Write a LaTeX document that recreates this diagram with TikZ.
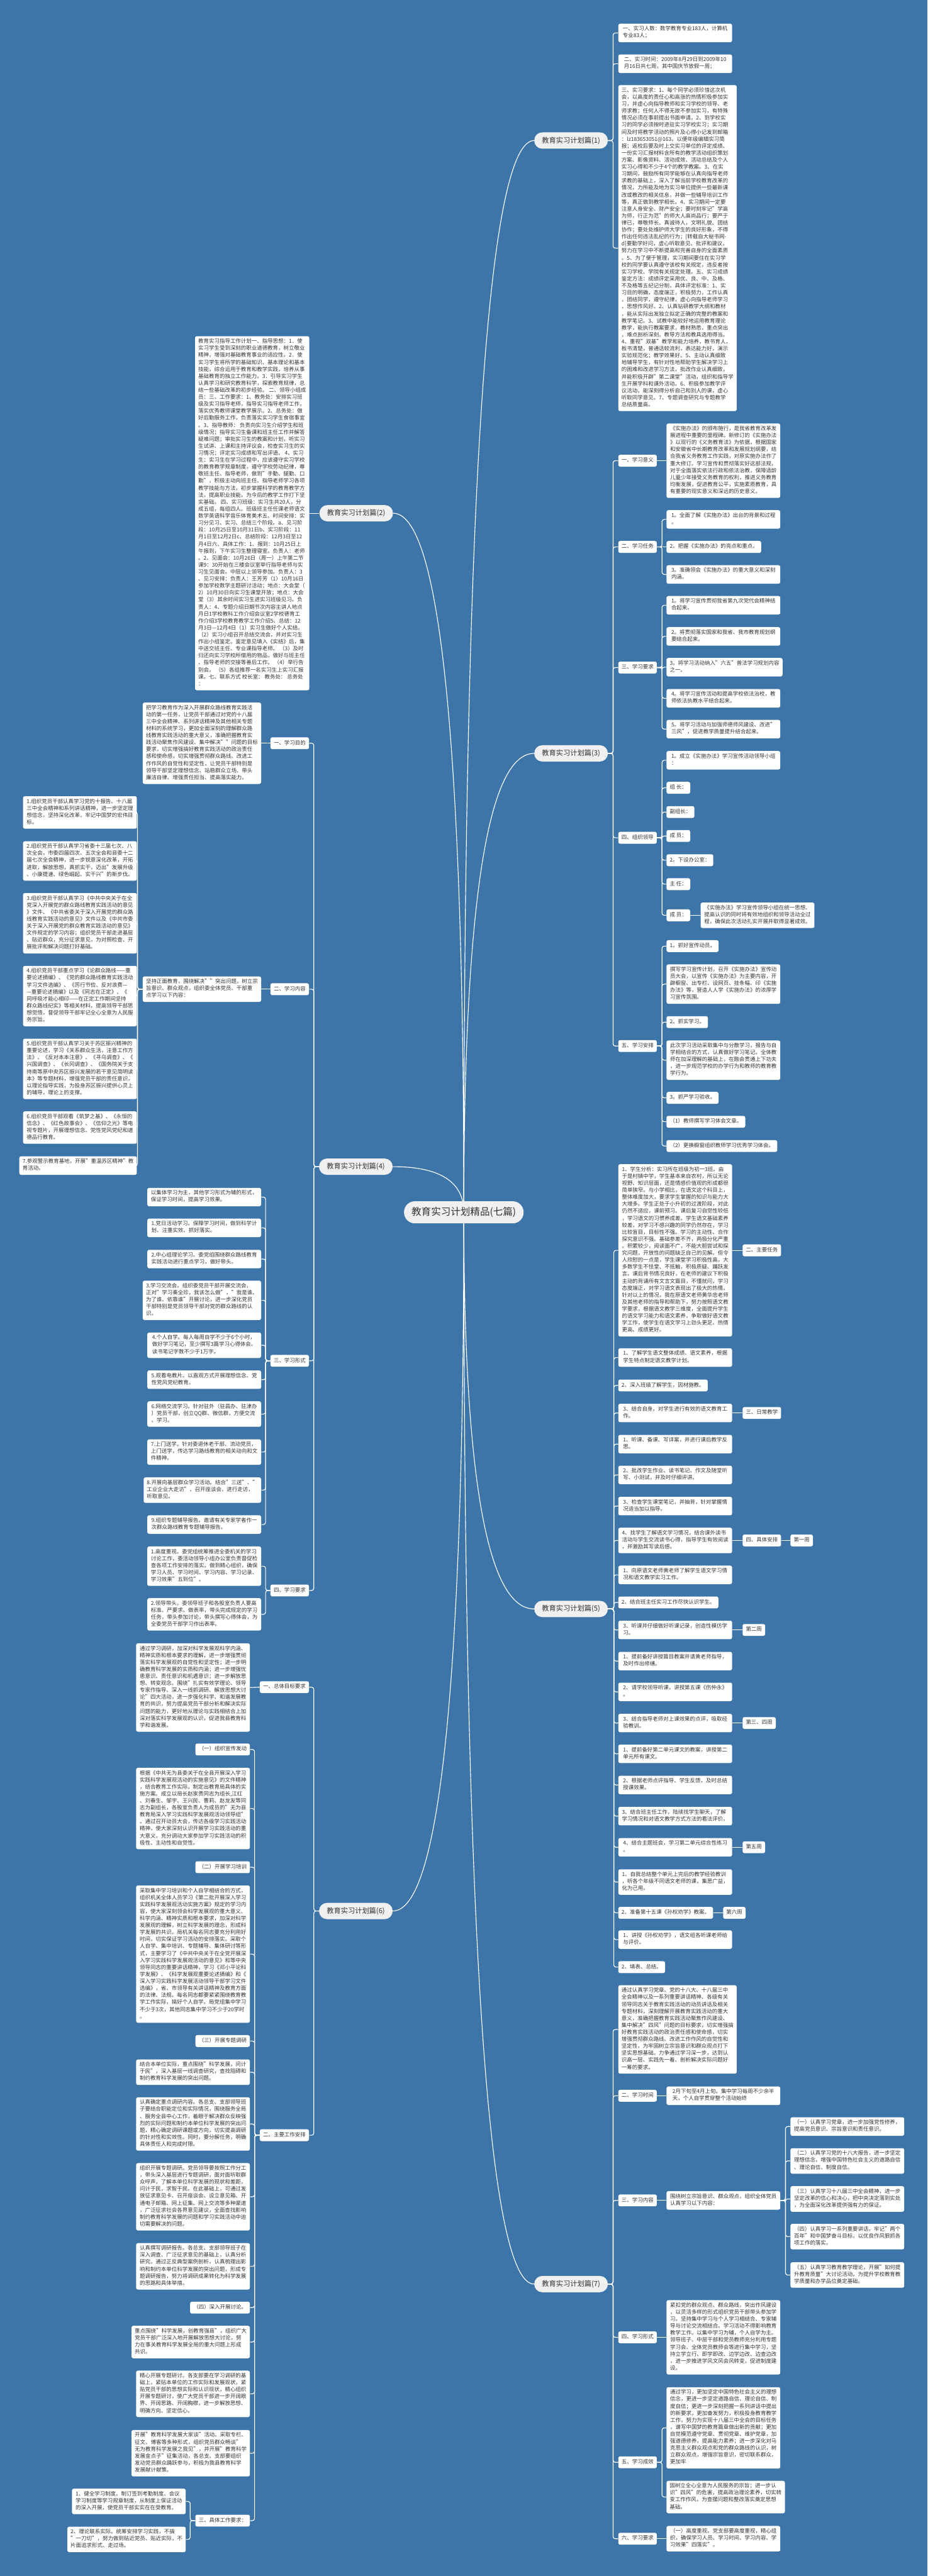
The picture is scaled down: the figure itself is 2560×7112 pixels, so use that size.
\documentclass[tikz,border=0pt]{standalone}
\usepackage{fontspec}
\setmainfont{Noto Sans CJK SC}
\usetikzlibrary{calc}
\definecolor{mmbg}{RGB}{62,117,168}
\definecolor{mmtx}{RGB}{51,51,51}
\definecolor{mmfill}{RGB}{240,240,240}
\newcommand\mystrut{\rule[-2.9pt]{0pt}{9.65pt}}
\tikzset{
 mmbase/.style={fill=white, text=mmtx, rounded corners=2.5pt, inner xsep=4.5pt, inner ysep=3.35pt, align=left,
   font=\fontsize{7.35pt}{9.65pt}\selectfont, execute at begin node=\mystrut, execute at end node=\mystrut},
 mmtb/.style={mmbase, minimum width=157pt},
 mmsb/.style={mmbase},
 mmbranch/.style={fill=mmfill, text=mmtx, rounded corners=11pt, minimum width=101.5pt, minimum height=22.5pt,
   inner sep=0pt, font=\fontsize{9.75pt}{11pt}\selectfont},
 mmroot/.style={fill=mmfill, text=mmtx, rounded corners=15pt, minimum width=165pt, minimum height=30.5pt,
   inner sep=0pt, font=\fontsize{13.5pt}{15pt}\selectfont},
 mmconn/.style={draw=white, line width=1pt, rounded corners=3pt},
 mmcurv/.style={draw=white, line width=1pt},
}
\newcommand\myR[3]{\draw[mmconn] (#1.east) -- ++(#3,0) |- (#2.west);}
\newcommand\myL[3]{\draw[mmconn] (#1.west) -- ++(-#3,0) |- (#2.east);}
\newcommand\myS[2]{\draw[mmconn] (#1.east) -- (#2.west);}
\newcommand\mySL[2]{\draw[mmconn] (#1.west) -- (#2.east);}
\newcommand\myRC[1]{\draw[mmcurv] (rc) .. controls ($(rc)!0.6667!(rc |- #1)$) and ($(#1)!0.6667!(rc |- #1)$) .. (#1);}
\begin{document}
\begin{tikzpicture}[x=0.5pt,y=-0.5pt]
\fill[mmbg] (0,0) rectangle (2560,7112);
\useasboundingbox (0,0) rectangle (2560,7112);
\coordinate (rc) at (1280,3347);

% ================= Branch 1
\node[mmbranch] (b1) at (1576,388) {教育实习计划篇(1)};
\node[mmtb,anchor=west] (b1a) at (1706,91) {一、实习人数：数学教育专业183人，计算机\\专业83人；};
\node[mmtb,anchor=west] (b1b) at (1706,176) {二、实习时间：2009年8月29日到2009年10\\月16日共七周，其中国庆节放假一周；};
\node[mmtb,anchor=west] (b1c) at (1706,685) {三、实习要求：1、每个同学必须珍惜这次机\\
会，以高度的责任心和高涨的热情积极参加实\\
习，并虚心向指导教师和实习学校的领导、老\\
师求教；任何人不得无故不参加实习，有特殊\\
情况必须在事前提出书面申请。2、到学校实\\
习的同学必须按时进驻实习学校实习；实习期\\
间及时将教学活动的照片及心得小记发到邮箱\\
：lz183653051@163，以便年级编辑实习简\\
报；返校后要及时上交实习单位的评定成绩、\\
一份实习汇报材料含所有的教学活动组织策划\\
方案、影像资料、活动成效、活动总结及个人\\
实习心得和不少于4个的教学教案。3、在实\\
习期间，鼓励所有同学能够在认真向指导老师\\
求教的基础上，深入了解当前学校教育改革的\\
情况，力所能及地为实习单位提供一些最新课\\
改或教改的相关信息，并做一些辅导培训工作\\
等，真正做到教学相长。4、实习期间一定要\\
注意人身安全、财产安全；要时刻牢记"学高\\
为师，行正为范"的师大人高尚品行；要严于\\
律已，尊敬师长、真诚待人，文明礼貌、团结\\
协作；要处处维护师大学生的良好形象，不得\\
作出任何违法乱纪的行为；[转载自大秘书网-\\
d]要勤学好问，虚心听取意见、批评和建议，\\
努力在学习中不断提高和完善自身的全面素质\\
。5、为了便于管理，实习期间要住在实习学\\
校的同学要认真遵守该校有关规定，违反者按\\
实习学校、学院有关规定处理。五、实习成绩\\
鉴定方法：成绩评定采用优、良、中、及格、\\
不及格等五纪记分制，具体评定标准：1、实\\
习目的明确，态度端正，积极努力，工作认真\\
，团结同学，遵守纪律，虚心向指导老师学习\\
，思想作风好。2、认真钻研教学大纲和教材\\
，能从实际出发独立拟定正确的完整的教案和\\
教学笔记。3、试教中能较好地运用教育理论\\
教学，能执行教案要求，教材熟悉，重点突出\\
，难点剖析深刻，教导方法和教具选用得当。\\
4、重视"双基"教学和能力培养，教书育人，\\
板书清楚，普通话较流利，表达能力好，演示\\
实验规范化；教学效果好。5、主动认真细致\\
地辅导学生，有针对性地帮助学生解决学习上\\
的困难和改进学习方法，批改作业认真细致，\\
并能积极开辟"第二课堂"活动，组织和指导学\\
生开展学科和课外活动。6、积极参加教学评\\
议活动，能深刻得分析自己和别人的课，虚心\\
听取同学意见。7、专题调查研究与专题教学\\
总结质量高。};

% ================= Branch 3
\node[mmbranch] (b3) at (1576,2080) {教育实习计划篇(3)};
\node[mmsb,anchor=west] (l31) at (1706,1272) {一、学习意义};
\node[mmtb,anchor=west] (t31) at (1839,1272) {《实施办法》的颁布施行，是我省教育改革发\\
展进程中重要的里程碑。新修订的《实施办法\\
》以现行的《义务教育法》为依据，根据国家\\
和安徽省中长期教育改革和发展规划纲要，结\\
合我省义务教育工作实践，对原实施办法作了\\
重大修订。学习宣传和贯彻落实好这部法规，\\
对于全面落实依法行政和依法治教，保障适龄\\
儿童少年接受义务教育的权利，推进义务教育\\
均衡发展，促进教育公平，实施素质教育，具\\
有重要的现实意义和深远的历史意义。};
\node[mmsb,anchor=west] (l32) at (1706,1510) {二、学习任务};
\node[mmtb,anchor=west] (t32a) at (1839,1434) {1。全面了解《实施办法》出台的背景和过程\\。};
\node[mmsb,anchor=west] (t32b) at (1839,1510) {2。把握《实施办法》的亮点和重点。};
\node[mmtb,anchor=west] (t32c) at (1839,1586) {3。准确领会《实施办法》的重大意义和深刻\\内涵。};
\node[mmsb,anchor=west] (l33) at (1706,1843) {三、学习要求};
\node[mmtb,anchor=west] (t33a) at (1839,1671) {1。将学习宣传贯彻我省第九次党代会精神结\\合起来。};
\node[mmtb,anchor=west] (t33b) at (1839,1757) {2。将贯彻落实国家和我省、我市教育规划纲\\要结合起来。};
\node[mmtb,anchor=west] (t33c) at (1839,1842) {3。将学习活动纳入"六五"普法学习规划内容\\之一。};
\node[mmtb,anchor=west] (t33d) at (1839,1928) {4。将学习宣传活动和提高学校依法治校，教\\师依法执教水平结合起来。};
\node[mmtb,anchor=west] (t33e) at (1839,2013) {5。将学习活动与加强师德师风建设、改进"\\三风"，促进教学质量提升结合起来。};
\node[mmsb,anchor=west] (l34) at (1706,2313) {四、组织领导};
\node[mmtb,anchor=west] (t34a) at (1839,2099) {1。成立《实施办法》学习宣传活动领导小组\\：};
\node[mmsb,anchor=west] (t34b) at (1839,2175) {组~长：};
\node[mmsb,anchor=west] (t34c) at (1839,2242) {副组长：};
\node[mmsb,anchor=west] (t34d) at (1839,2308) {成~员：};
\node[mmsb,anchor=west] (t34e) at (1839,2375) {2。下设办公室：};
\node[mmsb,anchor=west] (t34f) at (1839,2441) {主~任：};
\node[mmsb,anchor=west] (t34g) at (1839,2527) {成~员：};
\node[mmtb,anchor=west] (t34h) at ($(t34g.east)+(28,0)$) {《实施办法》学习宣传领导小组在统一思想、\\提高认识的同时将有效地组织和领导活动全过\\程，确保此次活动扎实开展并取得显著成效。};
\node[mmsb,anchor=west] (l35) at (1706,2888) {五、学习安排};
\node[mmsb,anchor=west] (t35a) at (1839,2612) {1。抓好宣传动员。};
\node[mmtb,anchor=west] (t35b) at (1839,2717) {撰写学习宣传计划，召开《实施办法》宣传动\\员大会，以宣传《实施办法》为主要内容，开\\辟橱窗、出专栏、设网页、挂条幅、印《实施\\办法》等，营造人人学《实施办法》的浓厚学\\习宣传氛围。};
\node[mmsb,anchor=west] (t35c) at (1839,2822) {2。抓实学习。};
\node[mmtb,anchor=west] (t35d) at (1839,2927) {此次学习活动采取集中与分散学习，报告与自\\学相结合的方式，认真做好学习笔记。全体教\\师在加深理解的基础上，在融会贯通上下功夫\\，进一步规范学校的办学行为和教师的教育教\\学行为。};
\node[mmsb,anchor=west] (t35e) at (1839,3031) {3。抓严学习验收。};
\node[mmsb,anchor=west] (t35f) at (1839,3097) {（1）教师撰写学习体会文章。};
\node[mmsb,anchor=west] (t35g) at (1839,3164) {（2）更换橱窗组织教师学习优秀学习体会。};

% ================= Branch 5
\node[mmbranch] (b5) at (1576,4442) {教育实习计划篇(5)};
\node[mmtb,anchor=west] (c1) at (1706,3452) {1、学生分析：实习所在班级为初一3班。由\\
于是村镇中学，学生基本来自农村，所以无论\\
视野、知识层面，还是情感价值观的形成都很\\
简单狭窄。与小学相比，在语文这个科目上，\\
整体难度加大，要求学生掌握的知识与能力大\\
大增多。学生正处于小升初的过渡阶段，对此\\
仍然不适应，课前预习、课后复习自觉性较低\\
，学习语文的习惯养成差。学生语文基础素养\\
较差，对学习不感兴趣的同学仍然存在，学习\\
比较盲目，目标性不强。学习的主动性、合作\\
探究意识不强。基础参差不齐，两极分化严重\\
。积累较少，阅读面不广，不能大胆尝试和探\\
究问题，开放性的问题缺乏自己的见解。但令\\
人欣慰的一点是，学生课堂学习积极性高，大\\
多数学生不怯堂、不抵触，积极质疑、踊跃发\\
言。课后背书情况良好，在老师的建议下积极\\
主动的背诵所有文言文篇目，不懂就问，学习\\
态度端正，对学习语文表现出了极大的热情。\\
针对以上的情况，我在原语文老师黄华忠老师\\
及其他老师的指导和帮助下，努力按照语文教\\
学要求，根据语文教学三维度，全面提升学生\\
的语文学习能力和语文素养，争取做好语文教\\
学工作，使学生在语文学习上劲头更足、热情\\
更高、成绩更好。};
\node[mmtb,anchor=west] (c2) at (1706,3748) {1、了解学生语文整体成绩、语文素养，根据\\学生特点制定语文教学计划。};
\node[mmsb,anchor=west] (c3) at (1706,3825) {2、深入班级了解学生，因材施教。};
\node[mmtb,anchor=west] (c4) at (1706,3901) {3、结合自身，对学生进行有效的语文教育工\\作。};
\node[mmtb,anchor=west] (c5) at (1706,3987) {1、听课、备课、写详案，并进行课后教学反\\思。};
\node[mmtb,anchor=west] (c6) at (1706,4072) {2、批改学生作业、读书笔记、作文及随堂听\\写、小测试，并及时仔细评讲。};
\node[mmtb,anchor=west] (c7) at (1706,4158) {3、检查学生课堂笔记，并抽背，针对掌握情\\况适当加以指导。};
\node[mmtb,anchor=west] (c8) at (1706,4253) {4、找学生了解语文学习情况，结合课外读书\\活动与学生交流读书心得，指导学生有效阅读\\，并激励其写读后感。};
\node[mmtb,anchor=west] (c9) at (1706,4348) {1、向原语文老师黄老师了解学生语文学习情\\况和语文教学实习工作。};
\node[mmsb,anchor=west] (c10) at (1706,4424) {2、结合班主任实习工作尽快认识学生。};
\node[mmtb,anchor=west] (c11) at (1706,4500) {3、听课并仔细做好听课记录，创造性模仿学\\习。};
\node[mmtb,anchor=west] (c12) at (1706,4586) {1、提前备好讲授篇目教案并请黄老师指导，\\及时作出修缮。};
\node[mmtb,anchor=west] (c13) at (1706,4671) {2、请学校领导听课，讲授第五课《伤仲永》\\。};
\node[mmtb,anchor=west] (c14) at (1706,4757) {3、结合指导老师对上课效果的点评，吸取经\\验教训。};
\node[mmtb,anchor=west] (c15) at (1706,4842) {1、提前备好第二单元课文的教案，讲授第二\\单元所有课文。};
\node[mmtb,anchor=west] (c16) at (1706,4928) {2、根据老师点评指导、学生反馈，及时总结\\授课效果。};
\node[mmtb,anchor=west] (c17) at (1706,5014) {3、结合班主任工作，陆续找学生聊天，了解\\学习情况和对语文教学方式方法的看法评价。};
\node[mmtb,anchor=west] (c18) at (1706,5100) {4、结合主题班会，学习第二单元综合性练习\\。};
\node[mmtb,anchor=west] (c19) at (1706,5196) {1、自我总结整个单元上完后的教学经验教训\\，听各个年级不同语文老师的课，集思广益，\\化为己用。};
\node[mmsb,anchor=west] (c20) at (1706,5281) {2、准备第十五课《孙权劝学》教案。};
\node[mmtb,anchor=west] (c21) at (1706,5355) {1、讲授《孙权劝学》，语文组各听课老师给\\与评价。};
\node[mmsb,anchor=west] (c22) at (1706,5431) {2、填表、总结。};
\node[mmsb,anchor=west] (m1) at (2049,3452) {二、主要任务};
\node[mmsb,anchor=west] (m4) at (2049,3901) {三、日常教学};
\node[mmsb,anchor=west] (m8) at (2049,4253) {四、具体安排};
\node[mmsb,anchor=west] (m8b) at (2181,4253) {第一周};
\node[mmsb,anchor=west] (m11) at (2049,4500) {第二周};
\node[mmsb,anchor=west] (m14) at (2049,4757) {第三、四周};
\node[mmsb,anchor=west] (m18) at (2049,5100) {第五周};
\node[mmsb,anchor=west] (m20) at ($(c20.east)+(27,0)$) {第六周};

% ================= Branch 7
\node[mmbranch] (b7) at (1576,6306) {教育实习计划篇(7)};
\node[mmtb,anchor=west] (d1) at (1706,5603) {通过认真学习党章、党的十八大、十八届三中\\
全会精神以及一系列重要讲话精神、各级有关\\
领导同志关于教育实践活动的动员讲话及相关\\
专题材料，深刻理解开展教育实践活动的重大\\
意义，准确把握教育实践活动聚焦作风建设、\\
集中解决"四风"问题的目标要求，切实增强搞\\
好教育实践活动的政治责任感和使命感，切实\\
增强贯彻群众路线、改进工作作风的自觉性和\\
坚定性，为牢固树立宗旨意识和群众观点打下\\
坚实思想基础。力争通过学习深一步，达到认\\
识高一层、实践先一着、剖析解决实际问题好\\
一筹的要求。};
\node[mmsb,anchor=west] (d2) at (1706,5786) {二、学习时间};
\node[mmtb,anchor=west] (d2a) at (1839,5786) {2月下旬至4月上旬。集中学习每周不少余半\\天，个人自学贯穿整个活动始终};
\node[mmsb,anchor=west] (d3) at (1706,6075) {三、学习内容};
\node[mmtb,anchor=west] (d3a) at (1839,6075) {围绕树立宗旨意识、群众观点，组织全体党员\\认真学习以下内容：};
\node[mmtb,anchor=west] (d3b1) at (2181,5871) {（一）认真学习党章，进一步加强党性修养，\\提高党员意识、宗旨意识和责任意识。};
\node[mmtb,anchor=west] (d3b2) at (2181,5966) {（二）认真学习党的十八大报告，进一步坚定\\理想信念，增强中国特色社会主义的道路自信\\、理论自信、制度自信。};
\node[mmtb,anchor=west] (d3b3) at (2181,6071) {（三）认真学习十八届三中全会精神，进一步\\坚定改革的信心和决心，把中央决定落到实处\\，为全面深化改革提供强有力的保证。};
\node[mmtb,anchor=west] (d3b4) at (2181,6175) {（四）认真学习一系列重要讲话，牢记"两个\\百年"和中国梦奋斗目标，以优良作风狠抓各\\项工作的落实。};
\node[mmtb,anchor=west] (d3b5) at (2181,6281) {（五）认真学习教育教学理论，开展"如何提\\升教育质量"大讨论活动，为提升学校教育教\\学质量和办学品位奠定基础。};
\node[mmsb,anchor=west] (d4) at (1706,6453) {四、学习形式};
\node[mmtb,anchor=west] (d4a) at (1839,6453) {紧扣党的群众观点、群众路线，突出作风建设\\
，以灵活多样的形式组织党员干部带头参加学\\
习。坚持集中学习与个人学习相结合、专家辅\\
导与讨论交流相结合。学习活动不得影响教育\\
教学工作。以集中学习为辅，个人自学为主。\\
领导班子、中层干部和党员教师充分利用专题\\
学习会、全体党员教师会等进行集中学习，坚\\
持立学立行、即学即改、边学边改、边查边改\\
，进一步推进学风文风会风转变，促进制度建\\
设。};
\node[mmsb,anchor=west] (d5) at (1706,6798) {五、学习成效};
\node[mmtb,anchor=west] (d5a) at (1839,6703) {通过学习，更加坚定中国特色社会主义的理想\\
信念，更进一步坚定道路自信、理论自信、制\\
度自信；更进一步深刻把握一系列讲话中提出\\
的新要求，更加奋发努力，积极投身教育教学\\
工作，努力为实现十八届三中全会的目标任务\\
，谱写中国梦的教育篇章做出新的贡献；更加\\
自觉模范遵守党章、贯彻党章、维护党章，加\\
强道德修养，提高能力素养；进一步深化对马\\
克思主义群众观点和党的群众路线的认识，树\\
立群众观点，增强宗旨意识，密切联系群众，\\
更加牢};
\node[mmtb,anchor=west] (d5b) at (1839,6894) {固树立全心全意为人民服务的宗旨；进一步认\\识"四风"的危害，提高政治理论素养，切实转\\变工作作风，为查摆问题和整改落实奠定思想\\基础。};
\node[mmsb,anchor=west] (d6) at (1706,7009) {六、学习要求};
\node[mmtb,anchor=west] (d6a) at (1839,7009) {（一）高度重视。党支部要高度重视，精心组\\织，确保学习人员、学习时间、学习内容、学\\习效果"四落实"。};

% ================= Branch 2
\node[mmbranch] (b2) at (983,1417) {教育实习计划篇(2)};
\node[mmtb,anchor=east] (b2a) at (854,1417) {教育实习指导工作计划一、指导思想：1．使\\
实习学生受到深刻的职业道德教育，树立敬业\\
精神，增强对基础教育事业的适应性。2．使\\
实习学生将所学的基础知识、基本理论和基本\\
技能，综合运用于教育和教学实践，培养从事\\
基础教育的独立工作能力。3．引导实习学生\\
认真学习和研究教育科学，探索教育规律，总\\
结一些基础改革的初步经验。~二、领导小组成\\
员：三、工作要求：1、教务处：安排实习班\\
级及实习指导老师，指导实习指导老师工作，\\
落实优秀教师课堂教学展示。2、总务处：做\\
好后勤服务工作，负责落实实习学生食宿事宜\\
。3、指导教师：~负责向实习生介绍学生和班\\
级情况；指导实习生备课和班主任工作并解答\\
疑难问题；审批实习生的教案和计划，听实习\\
生试讲、上课和主持评议会，检查实习生的实\\
习情况；评定实习成绩和写出评语。~4、实习\\
生：实习生在学习过程中，应该遵守实习学校\\
的教育教学规章制度，遵守学校劳动纪律，尊\\
敬班主任、指导老师，做到"手勤、腿勤、口\\
勤"，积极主动向班主任、指导老师学习各项\\
教学技能与方法，初步掌握科学的教育教学方\\
法，提高职业技能，为今后的教学工作打下坚\\
实基础。~四、实习班级：实习生共20人，分\\
成五组，每组四人。班级班主任任课老师语文\\
数学英语科学音乐体育美术五、时间安排：实\\
习分见习、实习、总结三个阶段。a、见习阶\\
段：10月25日至10月31日b、实习阶段：11\\
月1日至12月2日c、总结阶段：12月3日至12\\
月4日六、具体工作：1、报到：10月25日上\\
午报到，下午实习生整理寝室。负责人：老师\\
。2、见面会：10月26日（周一）上午第二节\\
课9：30开始在三楼会议室举行指导老师与实\\
习生见面会。中层以上领导参加。负责人：3\\
、见习安排：负责人：王芳芳（1）10月16日\\
参加学校数学主题研讨活动；地点：大会堂（\\
2）10月30日向实习生课堂开放；地点：大会\\
堂（3）其余时间实习生进实习班级见习。负\\
责人：4、专题介绍日期节次内容主讲人地点\\
月日1学校教科工作介绍会议室2学校德育工\\
作介绍3学校教育教学工作介绍5、总结：12\\
月3日—12月4日（1）实习生做好个人实结。\\
（2）实习小组召开总结交流会，并对实习生\\
作出小组鉴定。鉴定意见填入《实结》后，集\\
中送交班主任、专业课指导老师。~（3）及时\\
归还向实习学校所借用的物品，做好与班主任\\
、指导老师的交接等善后工作。~（4）举行告\\
别会。~（5）各组推荐一名实习生上实习汇报\\
课。七、联系方式~校长室：~教务处：~总务处\\
：};

% ================= Branch 4
\node[mmbranch] (b4) at (982,3221) {教育实习计划篇(4)};
\node[mmsb,anchor=east] (e1) at (853,2052) {一、学习目的};
\node[mmtb,anchor=east] (e1a) at (721,2052) {把学习教育作为深入开展群众路线教育实践活\\
动的第一任务，让党员干部通过对党的十八届\\
三中全会精神、系列讲话精神及其他相关专题\\
材料的系统学习，更加全面深刻的理解群众路\\
线教育实践活动的重大意义，准确把握教育实\\
践活动聚焦作风建设、集中解决""问题的目标\\
要求，切实增强搞好教育实践活动的政治责任\\
感和使命感，切实增强贯彻群众路线、改进工\\
作作风的自觉性和坚定性，让党员干部特别是\\
领导干部坚定理想信念、站稳群众立场、带头\\
廉洁自律、增强责任担当、提高落实能力。};
\node[mmsb,anchor=east] (e2) at (853,2731) {二、学习内容};
\node[mmtb,anchor=east] (e2a) at (721,2731) {坚持正面教育，围绕解决""突出问题，树立宗\\旨意识、群众观点，组织委全体党员、干部重\\点学习以下内容：};
\node[mmtb,anchor=east] (e2i1) at (378,2243) {1.组织党员干部认真学习党的十报告、十八届\\三中全会精神和系列讲话精神，进一步坚定理\\想信念，坚持深化改革，牢记中国梦的宏伟目\\标。};
\node[mmtb,anchor=east] (e2i2) at (378,2377) {2.组织党员干部认真学习省委十三届七次、八\\次全会，市委四届四次、五次全会和县委十二\\届七次全会精神，进一步锐意深化改革，开拓\\进取，解放思想，真抓实干，迈出"发展升级\\、小康提速、绿色崛起、实干兴"的新步伐。};
\node[mmtb,anchor=east] (e2i3) at (378,2549) {3.组织党员干部认真学习《中共中央关于在全\\
党深入开展党的群众路线教育实践活动的意见\\
》文件、《中共省委关于深入开展党的群众路\\
线教育实践活动的意见》文件以及《中共市委\\
关于深入开展党的群众教育实践活动的意见》\\
文件规定的学习内容；组织党员干部走进基层\\
、贴近群众，充分征求意见，为对照检查、开\\
展批评和解决问题打好基础。};
\node[mmtb,anchor=east] (e2i4) at (378,2750) {4.组织党员干部重点学习《论群众路线——重\\
要论述摘编》、《党的群众路线教育实践活动\\
学习文件选编》、《厉行节俭、反对浪费—\\
—重要论述摘编》以及《同志在正定》、《\\
同呼吸才能心相印——在正定工作期间坚持\\
群众路线纪实》等相关材料，提高领导干部思\\
想觉悟，督促领导干部牢记全心全意为人民服\\
务宗旨。};
\node[mmtb,anchor=east] (e2i5) at (378,2951) {5.组织党员干部认真学习关于苏区振兴精神的\\
重要论述，学习《关系群众生活，注意工作方\\
法》、《反对本本注意》、《寻乌调查》、《\\
兴国调查》、《长冈调查》、《国务院关于支\\
持南等原中央苏区振兴发展的若干意见简明读\\
本》等专题材料，增强党员干部的责任意识，\\
以理论指导实践，为投身苏区振兴提供心灵上\\
的辅导，理论上的支撑。};
\node[mmtb,anchor=east] (e2i6) at (378,3113) {6.组织党员干部观看《筑梦之基》、《永恒的\\信念》、《红色故事会》、《信仰之光》等电\\视专题片，开展理想信念、党性党风党纪和道\\德品行教育。};
\node[mmtb,anchor=east] (e2i7) at (378,3218) {7.参观警示教育基地，开展"重温苏区精神"教\\育活动。};
\node[mmsb,anchor=east] (e3) at (853,3757) {三、学习形式};
\node[mmtb,anchor=east] (e3a) at (721,3305) {以集体学习为主，其他学习形式为辅的形式，\\保证学习时间，提高学习效果。};
\node[mmtb,anchor=east] (e3b) at (721,3390) {1.党日活动学习。保障学习时间，做到科学计\\划、注重实效、抓好落实。};
\node[mmtb,anchor=east] (e3c) at (721,3476) {2.中心组理论学习。委党组围绕群众路线教育\\实践活动进行重点学习，做好带头。};
\node[mmtb,anchor=east] (e3d) at (721,3590) {3.学习交流会。组织委党员干部开展交流会，\\正对"学习奏全珍，我该怎么做"，"我是谁、\\为了谁、依靠谁"开展讨论，进一步深化党员\\干部特别是党员领导干部对党的群众路线的认\\识。};
\node[mmtb,anchor=east] (e3e) at (721,3714) {4.个人自学。每人每周自学不少于6个小时，\\做好学习笔记，至少撰写3篇学习心得体会。\\读书笔记字数不少于1万字。};
\node[mmtb,anchor=east] (e3f) at (721,3809) {5.观看电教片。以直观方式开展理想信念、党\\性党风党纪教育。};
\node[mmtb,anchor=east] (e3g) at (721,3904) {6.网络交流学习。针对驻外（驻昌办、驻津办\\）党员干部，创立QQ群、微信群，方便交流\\、学习。};
\node[mmtb,anchor=east] (e3h) at (721,4009) {7.上门送学。针对委退休老干部、流动党员，\\上门送学，传达学习路线教育的相关动向和文\\件精神。};
\node[mmtb,anchor=east] (e3i) at (721,4114) {8.开展向基层群众学习活动。结合"三送"、"\\工业企业大走访"，召开座谈会，进行走访，\\听取意见。};
\node[mmtb,anchor=east] (e3j) at (721,4209) {9.组织专题辅导报告。邀请有关专家学者作一\\次群众路线教育专题辅导报告。};
\node[mmsb,anchor=east] (e4) at (853,4391) {四、学习要求};
\node[mmtb,anchor=east] (e4a) at (721,4324) {1.高度重视。委党组统筹推进全委机关的学习\\讨论工作，委活动领导小组办公室负责督促检\\查各项工作安排的落实。做到精心组织，确保\\学习人员、学习时间、学习内容、学习记录、\\学习效果"五到位"。};
\node[mmtb,anchor=east] (e4b) at (721,4457) {2.领导带头。委领导班子和各股室负责人要高\\标准、严要求、做表率，带头完成规定的学习\\任务，带头参加讨论，带头撰写心得体会，为\\全委党员干部学习作出表率。};

% ================= Branch 6
\node[mmbranch] (b6) at (982,5276) {教育实习计划篇(6)};
\node[mmsb,anchor=east] (f1) at (853,4658) {一、总体目标要求};
\node[mmtb,anchor=east] (f1a) at (690,4659) {通过学习调研，加深对科学发展观科学内涵、\\
精神实质和根本要求的理解，进一步增强贯彻\\
落实科学发展观的自觉性和坚定性；进一步明\\
确教育科学发展的实质和内涵；进一步增强忧\\
患意识、责任意识和机遇意识；进一步解放思\\
想、转变观念。围绕"扎实有效学理论、领导\\
专家作指导、深入一线抓调研、解放思想大讨\\
论"四大活动，进一步强化科学、和谐发展教\\
育的共识，努力提高党员干部分析和解决实际\\
问题的能力，更好地从理论与实践相结合上加\\
深对落实科学发展观的认识，促进我县教育科\\
学和谐发展。};
\node[mmsb,anchor=east] (f2) at (853,5895) {二、主要工作安排};
\node[mmsb,anchor=east] (g1) at (690,4830) {（一）组织宣传发动};
\node[mmtb,anchor=east] (g2) at (690,4993) {根据《中共无为县委关于在全县开展深入学习\\
实践科学发展观活动的实施意见》的文件精神\\
，结合教育工作实际，制定出教育局具体的实\\
施方案。成立以局长赵家贵同志为组长,江红\\
、刘春生、邹宇、王兴民、曹莉、赵龙友等同\\
志为副组长，各股室负责人为成员的"无为县\\
教育局深入学习实践科学发展观活动领导组"\\
。通过召开动员大会，传达各级学习实践活动\\
精神，使大家深刻认识开展学习实践活动的重\\
大意义，充分调动大家参加学习实践活动的积\\
极性、主动性和自觉性。};
\node[mmsb,anchor=east] (g3) at (690,5155) {（二）开展学习培训};
\node[mmtb,anchor=east] (g4) at (690,5395) {采取集中学习培训和个人自学相结合的方式，\\
组织机关全体人员学习《第二批开展深入学习\\
实践科学发展观活动实施方案》规定的学习内\\
容，使大家深刻领会科学发展观的重大意义、\\
科学内涵、精神实质和根本要求，加深对科学\\
发展观的理解，树立科学发展的理念，形成科\\
学发展的共识。局机关每名同志要充分利用好\\
时间，切实保证学习活动的安排落实。采取个\\
人自学、集中培训、专题辅导、集体研讨等形\\
式，主要学习了《中共中央关于在全党开展深\\
入学习实践科学发展观活动的意见》和等中央\\
领导同志的重要讲话精神，学习《邓小平论科\\
学发展》、《科学发展观重要论述摘编》和《\\
深入学习实践科学发展活动领导干部学习文件\\
选编》，省、市领导有关讲话精神及教育方面\\
的法律、法规。每名同志都要紧紧围绕教育教\\
学工作实际，搞好个人自学。局党组集中学习\\
不少于3次，其他同志集中学习不少于20学时\\
。};
\node[mmsb,anchor=east] (g5) at (690,5635) {（三）开展专题调研};
\node[mmtb,anchor=east] (g6) at (690,5721) {结合本单位实际，重点围绕"科学发展，问计\\于民"，深入基层一线调查研究，查找阻碍和\\制约教育科学发展的突出问题。};
\node[mmtb,anchor=east] (g7) at (690,5864) {认真确定重点调研内容。各总支、支部领导班\\
子要结合职能定位和实际情况，围绕服务全局\\
、服务全县中心工作，着眼于解决群众反映强\\
烈的实际问题和制约本单位科学发展的突出问\\
题，精心确定调研课题或方向，切实提高调研\\
的针对性和实效性。同时，要分解任务，明确\\
具体责任人和完成时限。};
\node[mmtb,anchor=east] (g8) at (690,6065) {组织开展专题调研。党员领导要按照工作分工\\
，带头深入基层进行专题调研，面对面听取群\\
众呼声，了解本单位科学发展的现状和差距，\\
问计于民，求智于民。在此基础上，可通过发\\
放征求意见卡、召开座谈会、设立意见箱、开\\
通电子邮箱、网上征集、网上交流等多种渠道\\
，广泛征求社会各界意见建议，全面查找影响\\
制约教育科学发展的问题和学习实践活动中迫\\
切需要解决的问题。};
\node[mmtb,anchor=east] (g9) at (690,6257) {认真撰写调研报告。各总支、支部领导班子在\\
深入调查、广泛征求意见的基础上，认真分析\\
研究，通过正反典型案例剖析，认真梳理出影\\
响和制约本单位科学发展的突出问题，形成专\\
题调研报告，努力将调研成果转化为科学发展\\
的思路和具体举措。};
\node[mmsb,anchor=east] (g10) at (690,6371) {（四）深入开展讨论。};
\node[mmtb,anchor=east] (g11) at (690,6466) {重点围绕"科学发展，创教育强县"，组织广大\\党员干部广泛深入地开展解放思想大讨论，努\\力在事关教育科学发展全局的重大问题上形成\\共识。};
\node[mmtb,anchor=east] (g12) at (690,6609) {精心开展专题研讨。各支部要在学习调研的基\\
础上，紧贴本单位的工作实际和发展现状，紧\\
贴党员干部的思想实际和认识现状，精心组织\\
开展专题研讨，使广大党员干部进一步开阔眼\\
界、开阔思路、开阔胸襟，进一步解放思想、\\
明确方向、坚定信心。};
\node[mmtb,anchor=east] (g13) at (690,6773) {开展"教育科学发展大家谈"活动。采取专栏、\\
征文、博客等多种形式，组织党员群众畅谈"\\
无为教育科学发展之我见"，并开展"教育科学\\
发展金点子"征集活动，各总支、支部要组织\\
发动党员群众踊跃参与，积极为我县教育科学\\
发展献计献策。};
\node[mmsb,anchor=east] (g14) at (690,6959) {三、具体工作要求：};
\node[mmtb,anchor=east] (h1) at (513,6906) {1、健全学习制度。制订签到考勤制度、会议\\学习制度等学习规章制度，从制度上保证活动\\的深入开展，使党员干部实实在在受教育。};
\node[mmtb,anchor=east] (h2) at (513,7011) {2、理论联系实际。统筹安排学习实践，不搞\\"一刀切"，努力做到贴近党员、贴近实际，不\\片面追求形式、走过场。};

% ================= connectors
\foreach \c in {b1a,b1b,b1c} {\myR{b1}{\c}{14}}
\foreach \c in {l31,l32,l33,l34,l35} {\myR{b3}{\c}{14}}
\myS{l31}{t31}
\foreach \c in {t32a,t32c} {\myR{l32}{\c}{14}}
\myS{l32}{t32b}
\foreach \c in {t33a,t33b,t33c,t33d,t33e} {\myR{l33}{\c}{14}}
\foreach \c in {t34a,t34b,t34c,t34d,t34e,t34f,t34g} {\myR{l34}{\c}{14}}
\myS{t34g}{t34h}
\foreach \c in {t35a,t35b,t35c,t35d,t35e,t35f,t35g} {\myR{l35}{\c}{14}}
\foreach \c in {c1,c2,c3,c4,c5,c6,c7,c8,c9,c10,c11,c12,c13,c14,c15,c16,c17,c18,c19,c20,c21,c22} {\myR{b5}{\c}{16}}
\myS{c1}{m1}
\myS{c4}{m4}
\myS{c8}{m8}
\myS{m8}{m8b}
\myS{c11}{m11}
\myS{c14}{m14}
\myS{c18}{m18}
\myS{c20}{m20}
\foreach \c in {d1,d2,d3,d4,d5,d6} {\myR{b7}{\c}{14}}
\myS{d2}{d2a}
\myS{d3}{d3a}
\foreach \c in {d3b1,d3b2,d3b3,d3b4,d3b5} {\myR{d3a}{\c}{14}}
\myS{d4}{d4a}
\foreach \c in {d5a,d5b} {\myR{d5}{\c}{14}}
\myS{d6}{d6a}
\mySL{b2}{b2a}
\foreach \c in {e1,e2,e3,e4} {\myL{b4}{\c}{14}}
\mySL{e1}{e1a}
\mySL{e2}{e2a}
\foreach \c in {e2i1,e2i2,e2i3,e2i4,e2i5,e2i6,e2i7} {\myL{e2a}{\c}{14}}
\foreach \c in {e3a,e3b,e3c,e3d,e3e,e3f,e3g,e3h,e3i,e3j} {\myL{e3}{\c}{13}}
\foreach \c in {e4a,e4b} {\myL{e4}{\c}{13}}
\foreach \c in {f1,f2} {\myL{b6}{\c}{14}}
\mySL{f1}{f1a}
\foreach \c in {g1,g2,g3,g4,g5,g6,g7,g8,g9,g10,g11,g12,g13,g14} {\myL{f2}{\c}{14}}
\foreach \c in {h1,h2} {\myL{g14}{\c}{14}}

% root curves
\myRC{b1.west}
\myRC{b3.west}
\myRC{b5.west}
\myRC{b7.west}
\myRC{b2.east}
\myRC{b4.east}
\myRC{b6.east}
\node[mmroot] (root) at (rc) {教育实习计划精品(七篇)};
\end{tikzpicture}
\end{document}
